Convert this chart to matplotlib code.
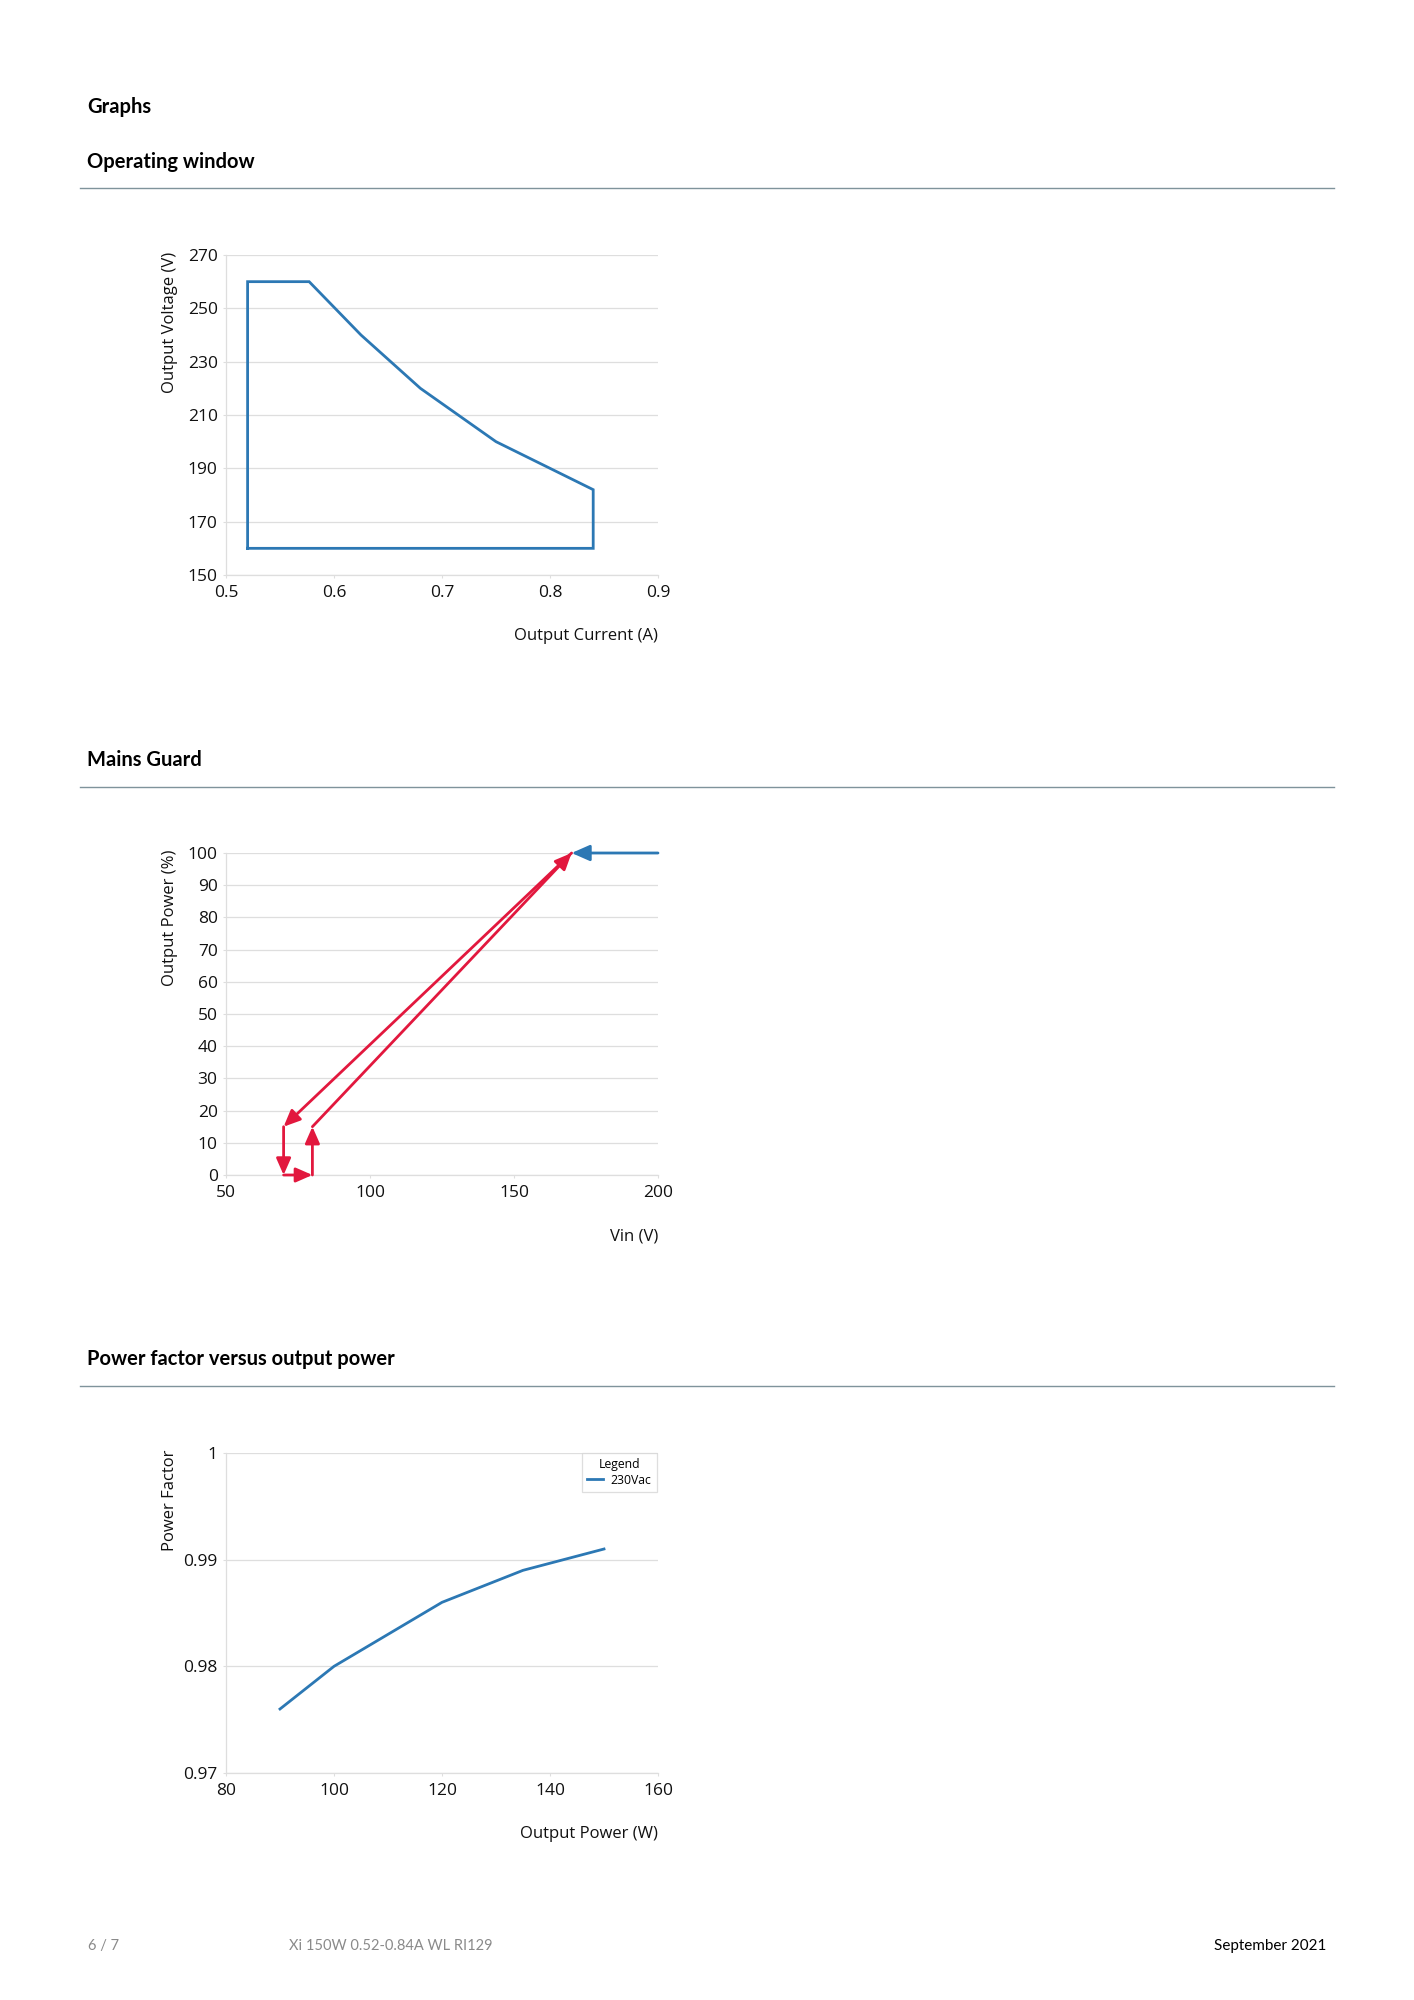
import matplotlib
matplotlib.use("Agg")
import matplotlib.pyplot as plt
from matplotlib.lines import Line2D
from matplotlib.ticker import FixedLocator, FixedFormatter


# ======================
# 1) Data
# ======================

# operating window (closed polygon)
out_current = [0.52, 0.52, 0.577, 0.625, 0.68, 0.75, 0.80, 0.84, 0.84, 0.52]
out_voltage = [160, 260, 260, 240, 220, 200, 190, 182, 160, 160]

# mains guard hysteresis path
guard_vin = [170, 70, 70, 80, 80, 170]
guard_power = [100, 15, 0, 0, 15, 100]
guard_in_vin = [200, 170]
guard_in_power = [100, 100]

# power factor vs output power
pf_power = [90, 100, 120, 135, 150]
pf_value = [0.976, 0.980, 0.986, 0.989, 0.991]
pf_series = "230Vac"

volt_ticks = [150, 170, 190, 210, 230, 250, 270]
curr_ticks = [0.5, 0.6, 0.7, 0.8, 0.9]
power_ticks = [0, 10, 20, 30, 40, 50, 60, 70, 80, 90, 100]
vin_ticks = [50, 100, 150, 200]
pf_ticks = [0.97, 0.98, 0.99, 1.0]
pf_tick_labels = ["0.97", "0.98", "0.99", "1"]
pw_ticks = [80, 100, 120, 140, 160]


# ======================
# 2) Style
# ======================

W, H = 1414, 2000
BLUE = "#2c78b4"
RED = "#e2183e"
GRID = "#dedede"
RULE = "#7f939b"

plt.rcParams["font.family"] = ["Open Sans", "Noto Sans", "DejaVu Sans"]

fig = plt.figure(figsize=(W / 100, H / 100), dpi=100)
fig.patch.set_facecolor("white")


def fy(px):
    return 1 - px / H


def heading(text, y_px, size=14.5):
    fig.text(87 / W, fy(y_px), text, fontsize=size, fontweight="bold",
             family="Lato", va="center", ha="left", color="black")


def rule(y_px):
    fig.add_artist(Line2D([80 / W, 1334 / W], [fy(y_px), fy(y_px)],
                          color=RULE, lw=1.0))


def make_axes(top_px, bottom_px):
    ax = fig.add_axes([226 / W, fy(bottom_px), 432 / W, (bottom_px - top_px) / H])
    for side in ["top", "right"]:
        ax.spines[side].set_visible(False)
    for side in ["left", "bottom"]:
        ax.spines[side].set_color(GRID)
        ax.spines[side].set_linewidth(0.9)
    ax.grid(axis="y", color=GRID, lw=0.9)
    ax.set_axisbelow(True)
    ax.tick_params(length=2.5, width=0.8, color=GRID, labelsize=12.5,
                   labelcolor="#111111", pad=3.5)
    ax.tick_params(axis="x", pad=5)
    return ax


def labels(ax, xlabel, ylabel):
    ax.text(1.0, -0.19, xlabel, transform=ax.transAxes, ha="right",
            va="center", fontsize=12, color="#111111")
    ax.text(-0.13, 1.01, ylabel, transform=ax.transAxes, rotation=90,
            ha="center", va="top", fontsize=12, color="#111111")


# ======================
# 3) Headings
# ======================

heading("Graphs", 107)
heading("Operating window", 162)
rule(188)
heading("Mains Guard", 760)
rule(787)
heading("Power factor versus output power", 1359)
rule(1386)


# ======================
# 4) Operating window
# ======================

ax1 = make_axes(255, 575)
ax1.plot(out_current, out_voltage, color=BLUE, lw=2.0, solid_joinstyle="miter")
ax1.set_xlim(0.5, 0.9)
ax1.set_ylim(150, 270)
ax1.set_xticks(curr_ticks)
ax1.set_xticklabels([f"{v:.1f}" for v in curr_ticks])
ax1.set_yticks(volt_ticks)
labels(ax1, "Output Current (A)", "Output Voltage (V)")


# ======================
# 5) Mains guard
# ======================

ax2 = make_axes(853, 1175)
ax2.set_xlim(50, 200)
ax2.set_ylim(0, 100)
ax2.set_xticks(vin_ticks)
ax2.set_yticks(power_ticks)

arrow_style = "-|>,head_length=0.5,head_width=0.22"
for i in range(len(guard_vin) - 1):
    ax2.annotate("", xy=(guard_vin[i + 1], guard_power[i + 1]),
                 xytext=(guard_vin[i], guard_power[i]),
                 arrowprops=dict(arrowstyle=arrow_style, color=RED, lw=2.0,
                                 shrinkA=0, shrinkB=0, mutation_scale=20),
                 annotation_clip=False)
ax2.annotate("", xy=(guard_in_vin[1], guard_in_power[1]),
             xytext=(guard_in_vin[0], guard_in_power[0]),
             arrowprops=dict(arrowstyle=arrow_style, color=BLUE, lw=2.0,
                             shrinkA=0, shrinkB=0, mutation_scale=22),
             annotation_clip=False)
labels(ax2, "Vin (V)", "Output Power (%)")


# ======================
# 6) Power factor
# ======================

ax3 = make_axes(1453, 1773)
ax3.plot(pf_power, pf_value, color=BLUE, lw=2.0, label=pf_series)
ax3.set_xlim(80, 160)
ax3.set_ylim(0.97, 1.0)
ax3.set_xticks(pw_ticks)
ax3.yaxis.set_major_locator(FixedLocator(pf_ticks))
ax3.yaxis.set_major_formatter(FixedFormatter(pf_tick_labels))
leg = ax3.legend(title="Legend", loc="upper right", bbox_to_anchor=(1.012, 1.02),
                 fontsize=8.8, title_fontsize=8.8, frameon=True, fancybox=False,
                 handlelength=1.3, borderpad=0.45, labelspacing=0.2,
                 handletextpad=0.6)
leg.get_frame().set_edgecolor("#d6d6d6")
leg.get_frame().set_linewidth(0.9)
labels(ax3, "Output Power (W)", "Power Factor")


# ======================
# 7) Footer
# ======================

fig.text(88 / W, fy(1946), "6 / 7", fontsize=10.5, family="Lato",
         color="#8a8a8a", va="center")
fig.text(289 / W, fy(1946), "Xi 150W 0.52-0.84A WL RI129", fontsize=10.5,
         family="Lato", color="#8a8a8a", va="center")
fig.text(1326 / W, fy(1946), "September 2021", fontsize=11, family="Lato",
         color="black", va="center", ha="right")

fig.savefig("out.png", dpi=100)
